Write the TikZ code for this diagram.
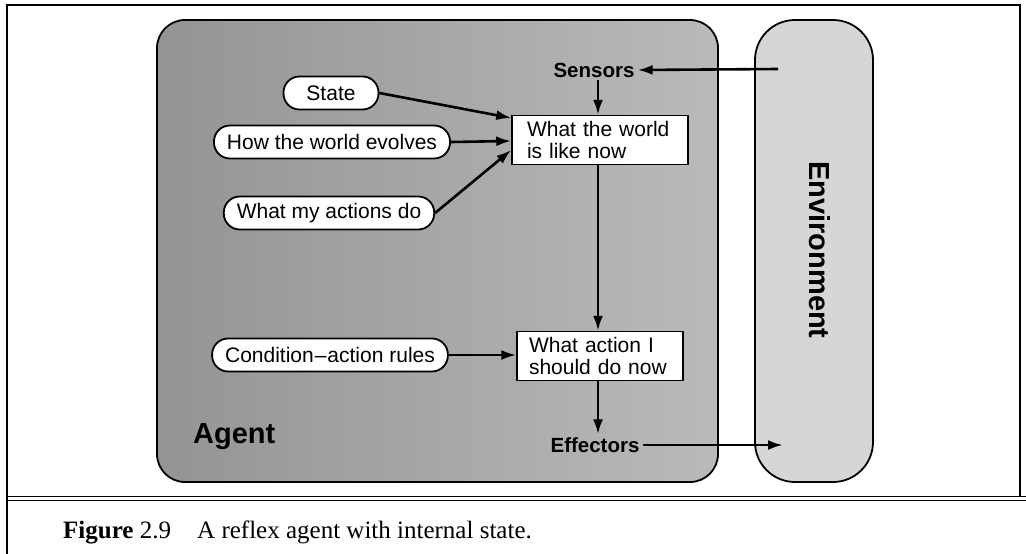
\documentclass[tikz,border=0pt]{standalone}
\usepackage{fontspec}
\setmainfont{Liberation Serif}
\newfontfamily\hv{Liberation Sans}
\usetikzlibrary{arrows.meta}
\begin{document}
\begin{tikzpicture}[x=1pt,y=-1pt,
  pill/.style={draw, line width=1.8pt, fill=white, rounded corners=16pt,
    minimum height=33pt, inner xsep=13pt, inner ysep=0pt,
    font=\hv\fontsize{21}{23}\selectfont},
  stepbox/.style={draw, line width=1.5pt, fill=white, align=left,
    text width=146pt, inner xsep=15pt, minimum height=49pt,
    font=\hv\fontsize{21}{22}\selectfont},
  arr/.style={line width=2.6pt, -{Latex[length=15pt,width=10pt]}},
  lbl/.style={font=\hv\bfseries\fontsize{20.5}{22}\selectfont, inner sep=3pt},
  big/.style={font=\hv\bfseries\fontsize{29}{31}\selectfont, inner sep=0pt},
  frame/.style={line width=1.4pt}
]
\useasboundingbox (0,0) rectangle (1026,554);
% frame
\draw[frame] (7,554) -- (7,5) -- (1020,5) -- (1020,497);
\draw[line width=1pt] (7,496) -- (1026,496);
\draw[line width=1pt] (7,500) -- (1026,500);
% regions
\draw[line width=1.8pt, rounded corners=28pt, left color=black!42, right color=black!27]
  (157,20) rectangle (718,482);
\draw[line width=1.8pt, rounded corners=40pt, fill=black!16]
  (755,20) rectangle (873,482);
\node[big, anchor=west] (agent) at (193,437) {Agent};
\node[big, rotate=-90] (env) at (820,250) {Environment};
% nodes
\node[pill, minimum width=95pt] (state) at (331,93) {State};
\node[pill] (how) at (332,142) {How the world evolves};
\node[pill] (what) at (329,213) {What my actions do};
\node[pill] (cond) at (330,355) {Condition\kern1pt\textendash\kern1pt action rules};
\node[stepbox] (world) at (600,140) {What the world\\is like now};
\node[stepbox, text width=142pt, inner xsep=12pt] (act) at (600,356) {What action I\\should do now};
\node[lbl] (sens) at (594,70) {Sensors};
\node[lbl] (eff) at (595,445) {Effectors};
\coordinate (envin) at (778,69);
\coordinate (envout) at (783,445);
% connectors
\draw[arr] (envin) -- (sens.east);
\draw[arr] (eff.east) -- (envout);
\draw[arr] ([xshift=4pt]sens.south) -- ([xshift=4pt]sens.south |- world.north);
\draw[arr] ([xshift=4pt]world.south -| sens.south) -- ([xshift=4pt]sens.south |- act.north);
\draw[arr] ([xshift=3pt]act.south -| eff.north) -- ([xshift=3pt]eff.north);
\draw[arr] (state.east) -- ([yshift=22pt]world.west);
\draw[arr] (how.east) -- ([yshift=-1pt]world.west);
\draw[arr] (what.east) -- ([yshift=-10pt]world.west);
\draw[arr] (cond.east) -- (cond.east -| act.west);
% caption
\node[anchor=base west, inner sep=0pt, font=\fontsize{25}{28}\selectfont] (fig) at (63,538) {\textbf{Figure} 2.9};
\node[anchor=base west, inner sep=0pt, font=\fontsize{25}{28}\selectfont] (cap) at (197,538) {A reflex agent with internal state.};
\end{tikzpicture}
\end{document}
